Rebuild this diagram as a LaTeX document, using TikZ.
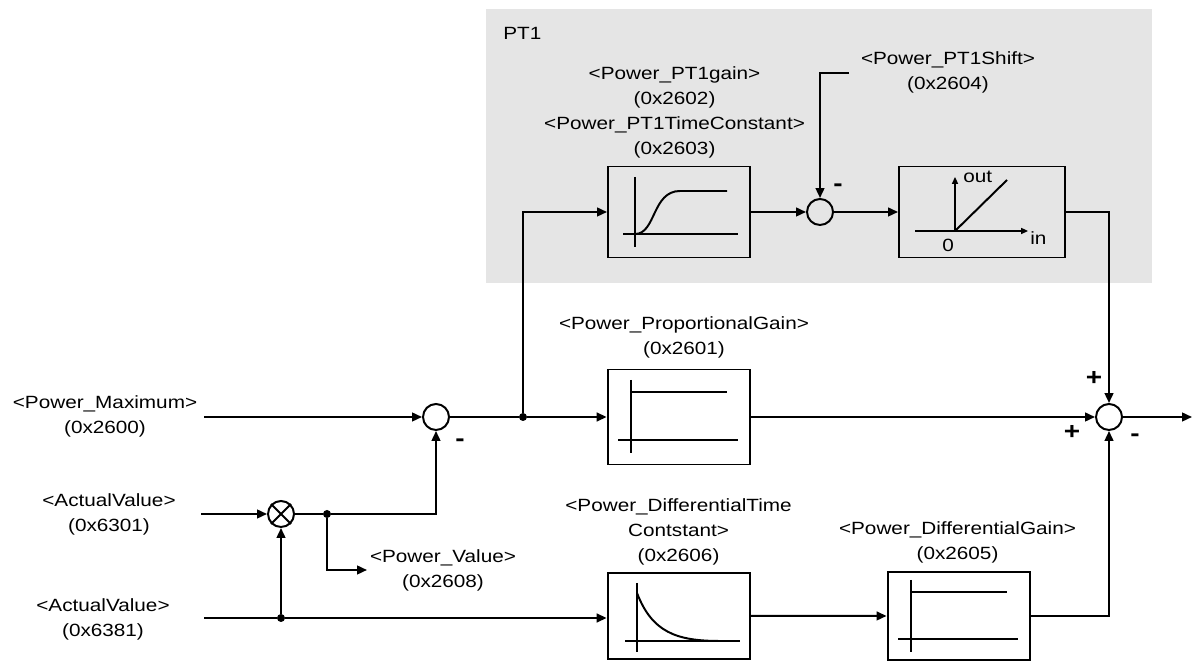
\documentclass[tikz,border=0pt]{standalone}
\usepackage{fontspec}
\setmainfont[FakeStretch=1.17]{Liberation Sans}
\usetikzlibrary{arrows.meta}

\begin{document}
\begin{tikzpicture}[
  wire/.style={line width=1.4pt},
  sig/.style={line width=1.4pt, -{Triangle[length=0.25cm,width=0.22cm]}},
  thinsig/.style={line width=1pt, -{Triangle[length=0.17cm,width=0.15cm]}},
  blk/.style={draw, line width=1.4pt, minimum width=3.55cm, inner sep=0pt},
  sumnode/.style={draw, circle, line width=1.4pt, minimum size=0.65cm, inner sep=0pt},
  jdot/.style={circle, fill=black, minimum size=0.2cm, inner sep=0pt},
  lbl/.style={font=\fontsize{12.6}{17.8}\selectfont, align=center, inner sep=0pt},
  pm/.style={font=\fontsize{17}{19}\selectfont\bfseries, inner sep=0pt},
  ax/.style={line width=1.4pt}
]
\useasboundingbox (0,0) rectangle (29.825,16.550);
\begin{scope}[shift={(0.000,0.000)}]
\fill[gray!20] (12.150,9.475) rectangle (28.800,16.325);
\node[lbl, anchor=west] (pt1title) at (12.575,15.725) {PT1};

\node[blk, minimum height=2.275cm] (pt1f) at (16.975,11.250) {};
\node[blk, minimum width=4.150cm, minimum height=2.275cm] (lin) at (24.550,11.250) {};
\node[sumnode] (sumpt) at (20.500,11.250) {};
\node[blk, minimum height=2.375cm] (pgain) at (16.965,6.125) {};
\node[blk, minimum height=2.150cm, anchor=north] (dtime) at (16.965,2.250) {};
\node[blk, minimum height=2.200cm, anchor=north] (dgain) at (23.963,2.275) {};
\node[sumnode] (sum1) at (10.900,6.125) {};
\node[sumnode] (sum2) at (27.725,6.125) {};
\node[sumnode] (mult) at (7.025,3.700) {};
\draw[wire] (mult.north east) -- (mult.south west) (mult.north west) -- (mult.south east);

\node[jdot] (jp) at (13.075,6.125) {};
\node[jdot] (jv) at (8.175,3.700) {};
\node[jdot] (jb) at (7.025,1.100) {};

\coordinate (inmax) at (5.100,6.125);
\coordinate (inact1) at (5.025,3.700);
\coordinate (inact2) at (5.100,1.100);
\coordinate (pvout) at (9.175,2.300);
\coordinate (shiftin) at (21.225,14.725);
\coordinate (out) at (29.800,6.125);

\node[lbl] (lmax) at (2.625,6.150) {<Power\_Maximum>\\(0x2600)};
\node[lbl] (lact1) at (2.725,3.688) {<ActualValue>\\(0x6301)};
\node[lbl] (lact2) at (2.575,1.075) {<ActualValue>\\(0x6381)};
\node[lbl] (lpv) at (11.075,2.300) {<Power\_Value>\\(0x2608)};
\node[lbl] (lpt1) at (16.863,13.750) {<Power\_PT1gain>\\(0x2602)\\<Power\_PT1TimeConstant>\\(0x2603)};
\node[lbl] (lshift) at (23.700,14.738) {<Power\_PT1Shift>\\(0x2604)};
\node[lbl] (lpgain) at (17.100,8.113) {<Power\_ProportionalGain>\\(0x2601)};
\node[lbl] (ldtime) at (16.963,3.250) {<Power\_DifferentialTime\\Contstant>\\(0x2606)};
\node[lbl] (ldgain) at (23.938,2.988) {<Power\_DifferentialGain>\\(0x2605)};

\node[pm] (m1) at (11.500,5.475) {-};
\node[pm] (mpt) at (20.950,11.850) {-};
\node[pm] (p2a) at (27.350,7.100) {+};
\node[pm] (p2b) at (26.800,5.750) {+};
\node[pm] (m2) at (28.375,5.600) {-};

\draw[sig] (inmax) -- (sum1);
\draw[wire] (sum1) -- (jp);
\draw[sig] (jp) -- (pgain);
\draw[sig] (jp) |- (pt1f.west);
\draw[sig] (pt1f) -- (sumpt);
\draw[sig] (shiftin) -| (sumpt.north);
\draw[sig] (sumpt) -- (lin);
\draw[sig] (lin.east) -| (sum2.north);
\draw[sig] (pgain) -- (sum2);
\draw[sig] (sum2) -- (out);
\draw[sig] (inact1) -- (mult);
\draw[wire] (mult) -- (jv);
\draw[sig] (jv) -| (sum1.south);
\draw[sig] (jv) |- (pvout);
\draw[wire] (inact2) -- (jb);
\draw[sig] (jb) -- (mult);
\draw[sig] (jb) -- (jb -| dtime.west);
\draw[sig] (dtime) -- (dgain);
\draw[sig] (dgain.east) -| (sum2.south);

\draw[ax] (15.875,12.125) -- (15.875,10.375);
\draw[ax] (15.575,10.700) -- (18.450,10.700);
\draw[ax] (15.875,10.700) .. controls (16.400,10.700) and (16.300,11.775) .. (17.000,11.775) -- (18.175,11.775);

\draw[thinsig] (23.875,10.775) -- (23.875,12.125);
\draw[line width=2pt] (22.875,10.775) -- (23.875,10.775);
\draw[thinsig] (23.875,10.775) -- (25.700,10.775);
\draw[ax] (23.875,10.775) -- (25.175,12.050);
\node[lbl, anchor=west] (lblout) at (24.075,12.125) {out};
\node[lbl, anchor=west] (lblin) at (25.750,10.600) {in};
\node[lbl] (lblzero) at (23.700,10.425) {0};

\draw[ax] (15.775,7.050) -- (15.775,5.225);
\draw[ax] (15.775,6.750) -- (18.175,6.750);
\draw[ax] (15.450,5.550) -- (18.450,5.550);

\draw[ax] (15.925,1.975) -- (15.925,0.250);
\draw[ax] (15.625,0.525) -- (18.500,0.525);
\draw[ax] (15.925,1.725) .. controls (16.300,0.750) and (16.900,0.525) .. (18.000,0.525);

\draw[ax] (22.775,2.050) -- (22.775,0.250);
\draw[ax] (22.775,1.750) -- (25.175,1.750);
\draw[ax] (22.450,0.575) -- (25.450,0.575);
\end{scope}
\end{tikzpicture}
\end{document}
